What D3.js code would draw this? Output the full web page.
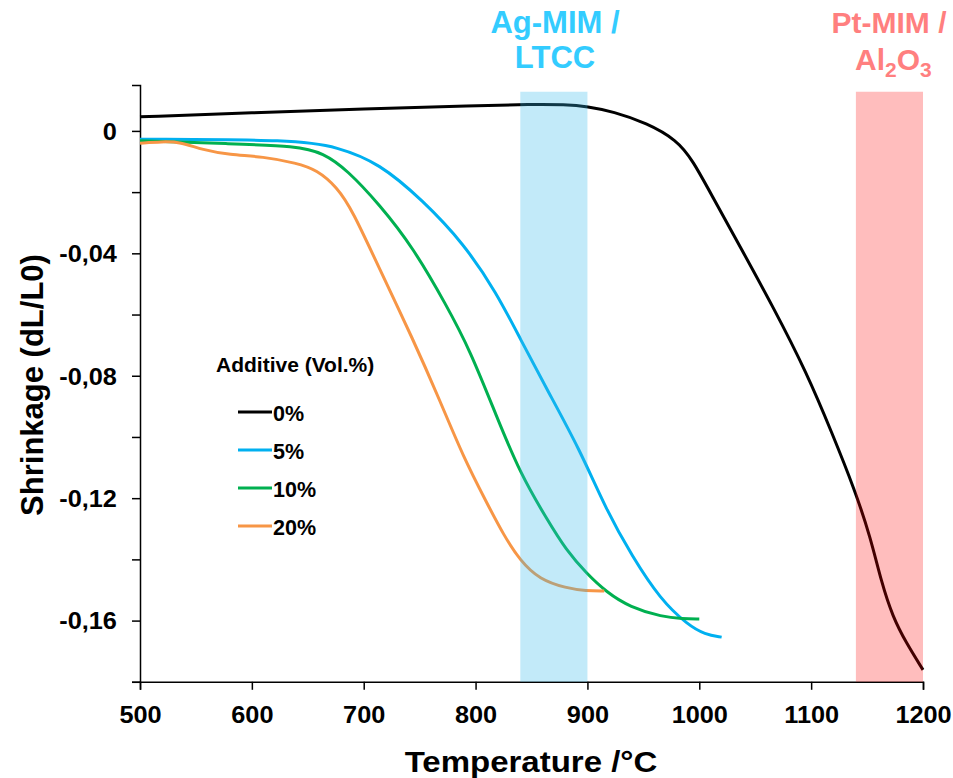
<!DOCTYPE html>
<html>
<head>
<meta charset="utf-8">
<script src="https://cdn.jsdelivr.net/npm/d3@7"></script>
<style>
  body { margin: 0; background: #fff; }
  text { font-family: Arial, "Liberation Sans", sans-serif; font-weight: bold; }
</style>
</head>
<body>
<script>
// temperature (°C) / shrinkage (dL/L0)
var temp0 = [500, 600, 700, 800, 850, 880, 900, 923, 953, 980, 994, 1012, 1036, 1066, 1096, 1119, 1139, 1153, 1163, 1173, 1185, 1200];
var shr0  = [0.0046, 0.0059, 0.0072, 0.0082, 0.0087, 0.0086, 0.0080, 0.0063, 0.0026, -0.003, -0.0095, -0.0216, -0.0375, -0.0575, -0.079, -0.099, -0.1173, -0.1327, -0.1477, -0.1588, -0.1673, -0.1761];

var temp5 = [500, 640, 676, 714, 753, 789, 819, 840, 864, 893, 917, 940, 965, 990, 1005, 1020];
var shr5  = [-0.0027, -0.0029, -0.0052, -0.0105, -0.0228, -0.0366, -0.053, -0.068, -0.0846, -0.104, -0.124, -0.139, -0.153, -0.1615, -0.1645, -0.1654];

var temp10 = [500, 580, 640, 664, 685, 714, 744, 774, 795, 819, 840, 864, 881, 899, 917, 938, 967, 985, 1000];
var shr10  = [-0.0032, -0.0042, -0.0049, -0.0072, -0.0127, -0.024, -0.0380, -0.057, -0.0716, -0.0935, -0.112, -0.127, -0.137, -0.1445, -0.1507, -0.1556, -0.1588, -0.1594, -0.1595];

var temp20 = [500, 520, 536, 556, 580, 610, 640, 658, 676, 690, 714, 744, 768, 789, 810, 825, 840, 857, 881, 899, 915];
var shr20  = [-0.004, -0.0035, -0.0036, -0.0062, -0.0078, -0.0084, -0.0105, -0.0127, -0.0183, -0.026, -0.045, -0.068, -0.088, -0.1065, -0.1215, -0.132, -0.1405, -0.1465, -0.1494, -0.1503, -0.1503];

var seriesNames = ["0%", "5%", "10%", "20%"];
var seriesColors = ["#000000", "#00b0f0", "#00b050", "#f79646"];

var xTicks = [500, 600, 700, 800, 900, 1000, 1100, 1200];
var yTicks = [0, -0.02, -0.04, -0.06, -0.08, -0.10, -0.12, -0.14, -0.16, -0.18];
var yLabelled = [0, -0.04, -0.08, -0.12, -0.16];

// temperature windows for the two process bands
var bandRanges = [[840, 900], [1140, 1200]];

var width = 953, height = 778;

var svg = d3.select("body").append("svg")
    .attr("width", width)
    .attr("height", height);

var x = d3.scaleLinear().domain([500, 1200]).range([140, 923]);
var y = d3.scaleLinear().domain([-0.18, 0.015]).range([681.8, 85]);

var fmt = function(d) { return d === 0 ? "0" : "-" + d3.format(".2f")(-d).replace(".", ","); };

// axes
svg.append("g")
    .attr("class", "x-axis")
    .attr("transform", "translate(0," + y(-0.18) + ")")
    .call(d3.axisBottom(x).tickValues(xTicks).tickSize(8).tickPadding(17).tickFormat(d3.format("d")));

svg.append("g")
    .attr("class", "y-axis")
    .attr("transform", "translate(" + x(500) + ",0)")
    .call(d3.axisLeft(y).tickValues(yTicks).tickSize(8)
      .tickFormat(function(d) {
        return yLabelled.some(function(v) { return Math.abs(v - d) < 1e-9; }) ? fmt(d) : "";
      }));

svg.selectAll(".domain").attr("stroke", "#000").attr("stroke-width", 1.5);
svg.selectAll(".tick line").attr("stroke", "#000").attr("stroke-width", 1.5);
svg.selectAll(".tick text").attr("fill", "#000")
    .attr("transform", "scale(1.1,1)")
    .style("font-size", "23px")
    .style("font-family", "Arial, 'Liberation Sans', sans-serif").style("font-weight", "bold");
svg.selectAll(".y-axis .tick text").attr("x", -21).attr("dy", "0.36em");

// curves
var series = [
  { t: temp0, s: shr0 },
  { t: temp5, s: shr5 },
  { t: temp10, s: shr10 },
  { t: temp20, s: shr20 }
];

var line = d3.line()
    .x(function(d) { return x(d[0]); })
    .y(function(d) { return y(d[1]); })
    .curve(d3.curveBasis);

svg.selectAll("path.curve")
    .data(series)
  .enter().append("path")
    .attr("class", "curve")
    .attr("fill", "none")
    .attr("stroke", function(d, i) { return seriesColors[i]; })
    .attr("stroke-width", 3)
    .attr("d", function(d) { return line(d.t.map(function(t, j) { return [t, d.s[j]]; })); });

// translucent bands on top of the curves
svg.selectAll("rect.band")
    .data(bandRanges)
  .enter().append("rect")
    .attr("class", "band")
    .attr("x", function(d) { return x(d[0]); })
    .attr("width", function(d) { return x(d[1]) - x(d[0]); })
    .attr("y", y(0.0128))
    .attr("height", y(-0.18) - y(0.0128))
    .attr("fill", function(d, i) { return i === 0 ? "rgb(52,185,235)" : "rgb(255,0,0)"; })
    .attr("fill-opacity", function(d, i) { return i === 0 ? 0.3 : 0.26; });

// band captions
var agLabel = svg.append("text")
    .attr("text-anchor", "middle")
    .attr("fill", "#33ccff")
    .style("font-size", "31px");
agLabel.append("tspan").attr("x", 555).attr("y", 33).text("Ag-MIM /");
agLabel.append("tspan").attr("x", 555).attr("y", 68).text("LTCC");

svg.append("text")
    .attr("x", 889).attr("y", 33)
    .attr("text-anchor", "middle")
    .attr("fill", "#ff7f7f")
    .style("font-size", "30px")
    .text("Pt-MIM /");

var al = svg.append("text")
    .attr("x", 855).attr("y", 70)
    .attr("fill", "#ff7f7f")
    .style("font-size", "30px");
al.append("tspan").text("Al");
al.append("tspan").attr("dy", 7).style("font-size", "21px").text("2");
al.append("tspan").attr("dy", -7).text("O");
al.append("tspan").attr("dy", 7).style("font-size", "21px").text("3");

// legend
svg.append("text")
    .attr("x", 216).attr("y", 372)
    .style("font-size", "21px")
    .text("Additive (Vol.%)");

var legend = svg.selectAll("g.legend")
    .data(seriesNames)
  .enter().append("g")
    .attr("class", "legend")
    .attr("transform", function(d, i) { return "translate(238," + (412 + i * 38) + ")"; });

legend.append("line")
    .attr("x1", 0).attr("x2", 34)
    .attr("stroke", function(d, i) { return seriesColors[i]; })
    .attr("stroke-width", 3);

legend.append("text")
    .attr("x", 35).attr("dy", "0.42em")
    .style("font-size", "21.5px")
    .text(function(d) { return d; });

// axis titles
svg.append("text")
    .attr("transform", "translate(531,772) scale(1.1,1)")
    .attr("text-anchor", "middle")
    .style("font-size", "30px")
    .text("Temperature /°C");

svg.append("text")
    .attr("transform", "translate(43,385) rotate(-90)")
    .attr("text-anchor", "middle")
    .style("font-size", "31px")
    .text("Shrinkage (dL/L0)");
</script>
</body>
</html>
